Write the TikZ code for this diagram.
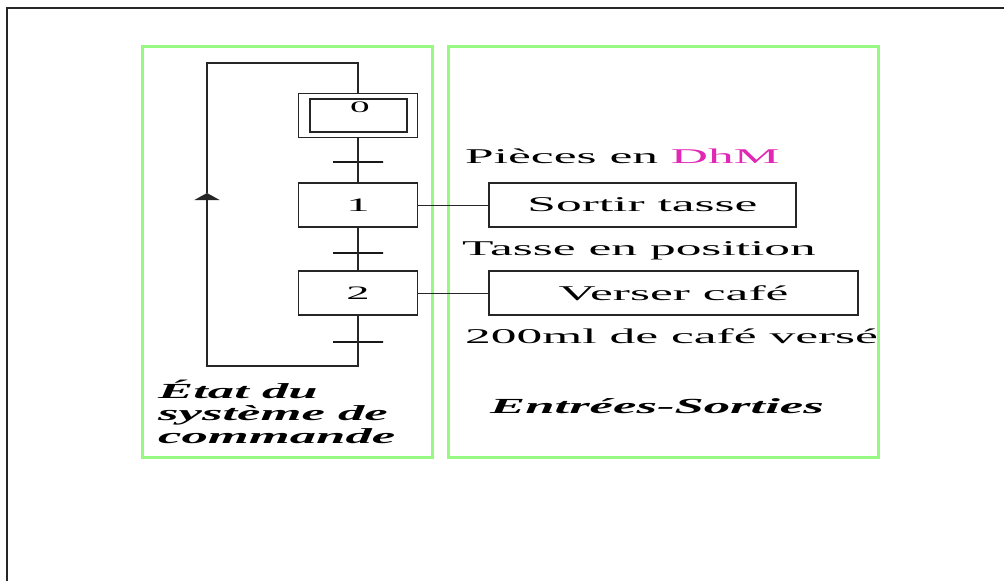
\documentclass[tikz,border=0pt]{standalone}
\usepackage{fontspec}
\setmainfont{Liberation Serif}[FakeStretch=2.45]
\usepackage{tikz}
\usetikzlibrary{arrows.meta}
\definecolor{panelgreen}{RGB}{150,250,130}
\definecolor{dhm}{RGB}{225,40,180}

\begin{document}
\begin{tikzpicture}[x=1pt, y=-1pt,
        etape/.style={draw=black!85, line width=1.6pt, minimum width=119pt, minimum height=44pt, inner sep=0pt, font=\fontsize{19}{21}\selectfont},
        action/.style={draw=black!85, line width=1.6pt, minimum height=44pt, inner sep=0pt, font=\fontsize{21}{23}\selectfont},
        trans/.style={draw=black!90, line width=1.2pt, minimum width=50pt, minimum height=0pt, inner sep=0pt},
        recept/.style={anchor=base west, inner sep=0pt, font=\fontsize{21}{23}\selectfont},
        titre/.style={inner sep=0pt, font=\fontsize{21.5}{22.5}\selectfont\bfseries\itshape},
        panel/.style={draw=panelgreen, line width=3pt},
        link/.style={black!85, line width=1.6pt},
        up/.style={-{Triangle[width=25pt, length=7pt]}}
    ]
        \useasboundingbox (0,0) rectangle (1004,581);
        \draw[line width=1.5pt, black!85] (7,581) -- (7,8) -- (1004,8);

        \draw[panel] (142,46) rectangle (432,457);
        \draw[panel] (448,46) rectangle (878,457);

        % grafcet
        \node[etape] (s0) at (358,115.5) {};
        \node[etape, minimum width=97pt, minimum height=33pt] (s0i) at (358.5,115.5) {};
        \node[inner sep=0pt, font=\fontsize{16}{18}\selectfont] (n0) at (360,107) {0};
        \node[trans] (t1) at (358,162) {};
        \node[etape] (s1) at (358,205) {1};
        \node[trans] (t2) at (358,253) {};
        \node[etape] (s2) at (358,293) {2};
        \node[trans] (t3) at (358,342) {};
        \coordinate (bl) at (207,366);
        \coordinate (arr) at (207,193);
        \coordinate (tl) at (207,63);

        \draw[link] (s0.south) -- (s1.north);
        \draw[link] (s1.south) -- (s2.north);
        \draw[link, up] (s2.south) |- (bl) -- (arr);
        \draw[link] (arr) -- (tl) -| (s0.north);

        % actions
        \node[action, minimum width=307pt] (a1) at (642.5,205) {Sortir tasse};
        \node[action, minimum width=369pt] (a2) at (673.5,293) {Verser café};
        \draw[black!85, line width=1pt] (s1.east) -- (a1.west);
        \draw[black!85, line width=1pt] (s2.east) -- (a2.west);

        \node[recept] (r1) at (465,163) {Pièces en \textcolor{dhm}{DhM}};
        \node[recept] (r2) at (462,255) {Tasse en position};
        \node[recept] (r3) at (465,343) {200ml de café versé};

        \node[titre, anchor=base west, align=left] (etat) at (158,443) {État du\\système de\\commande};
        \node[titre, anchor=base] (es) at (657,413) {Entrées-Sorties};
    \end{tikzpicture}
\end{document}
